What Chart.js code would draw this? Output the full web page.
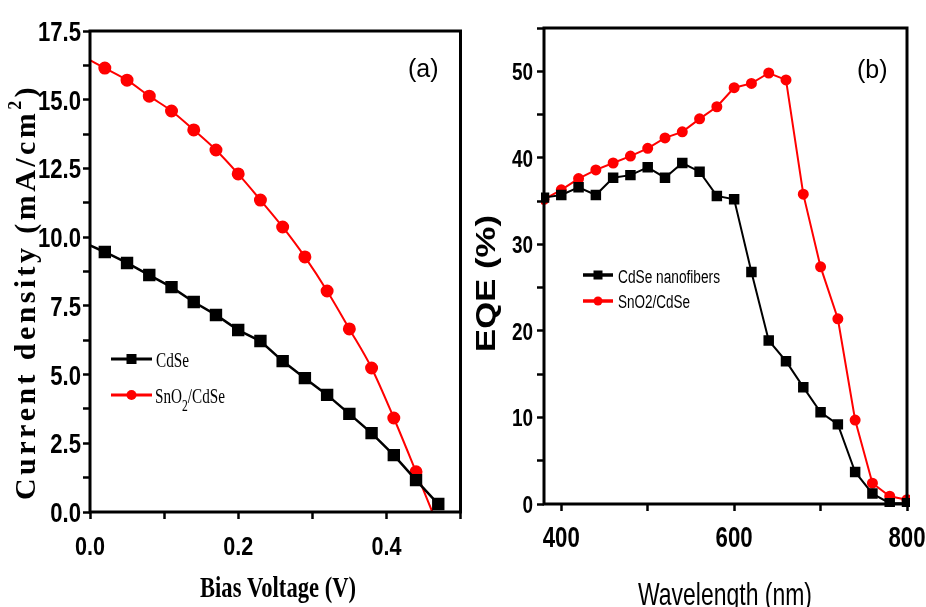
<!DOCTYPE html>
<html>
<head>
<meta charset="utf-8">
<script src="https://cdn.jsdelivr.net/npm/chart.js@4.4.0/dist/chart.umd.min.js"></script>
<style>
    html, body { margin: 0; padding: 0; background: #fff; }
    #wrap { position: relative; width: 926px; height: 607px; overflow: hidden; }
    #jvBox { position: absolute; left: 0; top: 0; width: 470px; height: 607px; }
    #eqeBox { position: absolute; left: 470px; top: 0; width: 456px; height: 607px; }
</style>
</head>
<body>
<div id="wrap">
    <div id="jvBox"><canvas id="jvChart"></canvas></div>
    <div id="eqeBox"><canvas id="eqeChart"></canvas></div>
</div>
<script>
// ---- panel (a): J-V curves ----
var biasCdSe = [0, 0.02, 0.05, 0.08, 0.11, 0.14, 0.17, 0.20, 0.23, 0.26, 0.29, 0.32, 0.35, 0.38, 0.41, 0.44, 0.47];
var jCdSe = [9.7, 9.46, 9.06, 8.62, 8.18, 7.64, 7.17, 6.62, 6.22, 5.49, 4.87, 4.26, 3.57, 2.87, 2.07, 1.16, 0.29];
var biasSnO2 = [0, 0.02, 0.05, 0.08, 0.11, 0.14, 0.17, 0.20, 0.23, 0.26, 0.29, 0.32, 0.35, 0.38, 0.41, 0.44, 0.462];
var jSnO2 = [16.44, 16.15, 15.71, 15.13, 14.59, 13.9, 13.17, 12.3, 11.35, 10.37, 9.28, 8.04, 6.66, 5.24, 3.42, 1.46, 0];
var jvXTicks = [0, 0.1, 0.2, 0.3, 0.4, 0.5];
var jvXLabels = [0, 0.2, 0.4];
var jvYTicks = [0, 1.25, 2.5, 3.75, 5, 6.25, 7.5, 8.75, 10, 11.25, 12.5, 13.75, 15, 16.25, 17.5];
var jvYLabels = [0, 2.5, 5, 7.5, 10, 12.5, 15, 17.5];

// ---- panel (b): EQE spectra ----
var wavelength = [380, 400, 420, 440, 460, 480, 500, 520, 540, 560, 580, 600, 620, 640, 660, 680, 700, 720, 740, 760, 780, 800];
var eqeCdSe = [35.4, 35.7, 36.6, 35.7, 37.7, 38.0, 38.9, 37.7, 39.4, 38.4, 35.6, 35.2, 26.8, 18.9, 16.5, 13.5, 10.6, 9.2, 3.7, 1.2, 0.1, 0.1];
var eqeSnO2 = [35.2, 36.3, 37.6, 38.6, 39.4, 40.2, 41.1, 42.3, 43.0, 44.5, 45.9, 48.1, 48.6, 49.8, 49.0, 35.8, 27.4, 21.4, 9.7, 2.4, 0.9, 0.5];
var eqeXTicks = [400, 500, 600, 700, 800];
var eqeXLabels = [400, 600, 800];
var eqeYTicks = [0, 5, 10, 15, 20, 25, 30, 35, 40, 45, 50, 55];
var eqeYLabels = [0, 10, 20, 30, 40, 50];

var SERIF = '"Liberation Serif", "Times New Roman", serif';
var SANS = '"Liberation Sans", Arial, sans-serif';

function pts(xs, ys) {
    return xs.map(function(x, i) { return {x: x, y: ys[i]}; });
}

// draws text runs, squeezed ('scale' to a width, 'factor' by a ratio) or letter-spaced ('space')
function drawRuns(ctx, runs, x, y, target, mode, angle, align) {
    var natural = 0, chars = 0;
    runs.forEach(function(r) { ctx.font = r.font; natural += ctx.measureText(r.text).width; chars += r.text.length; });
    ctx.save();
    ctx.translate(x, y);
    if (angle) ctx.rotate(angle);
    ctx.textAlign = 'left';
    ctx.textBaseline = 'alphabetic';
    var gap = 0, sx = 1;
    if (mode === 'space') gap = (target - natural) / (chars - 1);
    else if (mode === 'factor') sx = target;
    else sx = target / natural;
    ctx.scale(sx, 1);
    var cx = 0;
    if (align === 'right') cx = -natural;
    if (align === 'center') cx = -natural / 2;
    runs.forEach(function(r) {
        ctx.font = r.font;
        if (mode === 'space') {
            for (var i = 0; i < r.text.length; i++) {
                ctx.fillText(r.text[i], cx, r.dy || 0);
                cx += ctx.measureText(r.text[i]).width + gap;
            }
        } else {
            ctx.fillText(r.text, cx, r.dy || 0);
            cx += ctx.measureText(r.text).width;
        }
    });
    ctx.restore();
}

function legendRow(ctx, x0, x1, y, color, shape, size, lw) {
    ctx.save();
    ctx.strokeStyle = color;
    ctx.fillStyle = color;
    ctx.lineWidth = lw;
    ctx.beginPath();
    ctx.moveTo(x0, y);
    ctx.lineTo(x1, y);
    ctx.stroke();
    var mx = (x0 + x1) / 2;
    if (shape === 'rect') {
        ctx.fillRect(mx - size / 2, y - size / 2, size, size);
    } else {
        ctx.beginPath();
        ctx.arc(mx, y, size / 2, 0, Math.PI * 2);
        ctx.fill();
    }
    ctx.restore();
}

// tick labels in a condensed face, placed by the chart's own scales
function drawTickLabels(chart, axis, labels, fmt, font, sx, offset, baseShift) {
    var ctx = chart.ctx;
    var scale = chart.scales[axis];
    scale.ticks.forEach(function(t) {
        if (labels.indexOf(t.value) < 0) return;
        var p = scale.getPixelForValue(t.value);
        var run = [{text: fmt(t.value), font: font}];
        if (axis === 'y') drawRuns(ctx, run, offset, p + baseShift, sx, 'factor', 0, 'right');
        else drawRuns(ctx, run, p, offset, sx, 'factor', 0, 'center');
    });
}

function makeDecor(drawFn) {
    return {
        id: 'panelDecor',
        afterDraw: function(chart) {
            var ctx = chart.ctx;
            var a = chart.chartArea;
            ctx.save();
            ctx.strokeStyle = '#000';
            ctx.lineWidth = 3;
            ctx.strokeRect(a.left, a.top, a.right - a.left, a.bottom - a.top);
            ctx.fillStyle = '#000';
            drawFn(chart, ctx, a);
            ctx.restore();
        }
    };
}

function fixedAxis(size) {
    return function(scale) {
        if (scale.isHorizontal()) {
            scale.height = size;
            scale.paddingLeft = 0;
            scale.paddingRight = 0;
        } else {
            scale.width = size;
            scale.paddingTop = 0;
            scale.paddingBottom = 0;
        }
    };
}

function tickList(list) {
    return function(scale) {
        scale.ticks = list.map(function(v) { return {value: v}; });
    };
}

function axisGrid() {
    return { drawOnChartArea: false, drawTicks: true, tickLength: 7, tickWidth: 2.5, tickColor: '#000' };
}

function blankTicks() {
    return { autoSkip: false, maxRotation: 0, callback: function() { return ''; } };
}

function fmt1(v) { return v.toFixed(1); }
function fmt0(v) { return String(v); }

// ---- chart (a) ----
var ctxA = document.getElementById('jvChart').getContext('2d');
var jvChart = new Chart(ctxA, {
    type: 'line',
    data: {
        datasets: [{
            label: 'CdSe',
            data: pts(biasCdSe, jCdSe),
            borderColor: '#000',
            backgroundColor: '#000',
            borderWidth: 2.5,
            pointStyle: 'rect',
            pointRadius: biasCdSe.map(function(v, i) { return i === 0 ? 0 : 7; }),
            tension: 0,
            clip: 3
        }, {
            label: 'SnO2/CdSe',
            data: pts(biasSnO2, jSnO2),
            borderColor: '#ff0000',
            backgroundColor: '#ff0000',
            borderWidth: 2,
            pointStyle: 'circle',
            pointRadius: biasSnO2.map(function(v, i) { return (i === 0 || i === biasSnO2.length - 1) ? 0 : 5.5; }),
            cubicInterpolationMode: 'monotone',
            clip: 3
        }]
    },
    options: {
        responsive: true,
        maintainAspectRatio: false,
        animation: false,
        layout: { padding: { left: 0, top: 31, right: 7, bottom: 0 } },
        plugins: { legend: { display: false }, tooltip: { enabled: false } },
        scales: {
            x: {
                type: 'linear', min: 0, max: 0.5,
                afterFit: fixedAxis(95),
                afterBuildTicks: tickList(jvXTicks),
                border: { display: false },
                grid: axisGrid(),
                ticks: blankTicks()
            },
            y: {
                type: 'linear', min: 0, max: 17.5,
                afterFit: fixedAxis(90),
                afterBuildTicks: tickList(jvYTicks),
                border: { display: false },
                grid: axisGrid(),
                ticks: blankTicks()
            }
        }
    },
    plugins: [makeDecor(function(chart, ctx, a) {
        drawTickLabels(chart, 'y', jvYLabels, fmt1, 'bold 28px ' + SANS, 0.79, 81, 10);
        drawTickLabels(chart, 'x', jvXLabels, fmt1, 'bold 26px ' + SANS, 0.83, 555, 0);
        // axis titles
        drawRuns(ctx, [
            {text: 'Current density (mA/cm', font: 'bold 30px ' + SERIF},
            {text: '2', font: 'bold 18px ' + SERIF, dy: -14},
            {text: ')', font: 'bold 30px ' + SERIF}
        ], 35, 500, 412, 'space', -Math.PI / 2);
        drawRuns(ctx, [{text: 'Bias Voltage (V)', font: 'bold 29px ' + SERIF}], 200, 597, 156, 'scale');
        // panel label
        ctx.font = '25px ' + SANS;
        ctx.textAlign = 'left';
        ctx.textBaseline = 'alphabetic';
        ctx.fillText('(a)', 408, 77);
        // legend
        legendRow(ctx, 111, 152, 359, '#000', 'rect', 10, 3);
        legendRow(ctx, 111, 152, 395, '#ff0000', 'circle', 10, 3);
        drawRuns(ctx, [{text: 'CdSe', font: '21px ' + SERIF}], 156, 367, 33, 'scale');
        drawRuns(ctx, [
            {text: 'SnO', font: '21px ' + SERIF},
            {text: '2', font: '16px ' + SERIF, dy: 8},
            {text: '/CdSe', font: '21px ' + SERIF}
        ], 155, 403, 70, 'scale');
    })]
});

// ---- chart (b) ----
var ctxB = document.getElementById('eqeChart').getContext('2d');
var eqeChart = new Chart(ctxB, {
    type: 'line',
    data: {
        datasets: [{
            label: 'CdSe nanofibers',
            data: pts(wavelength, eqeCdSe),
            borderColor: '#000',
            backgroundColor: '#000',
            borderWidth: 2,
            pointStyle: 'rect',
            pointRadius: 6,
            tension: 0,
            clip: 3
        }, {
            label: 'SnO2/CdSe',
            data: pts(wavelength, eqeSnO2),
            borderColor: '#ff0000',
            backgroundColor: '#ff0000',
            borderWidth: 2,
            pointStyle: 'circle',
            pointRadius: 4.5,
            tension: 0,
            clip: 3
        }]
    },
    options: {
        responsive: true,
        maintainAspectRatio: false,
        animation: false,
        layout: { padding: { left: 0, top: 28, right: 19, bottom: 0 } },
        plugins: { legend: { display: false }, tooltip: { enabled: false } },
        scales: {
            x: {
                type: 'linear', min: 380, max: 800,
                afterFit: fixedAxis(103),
                afterBuildTicks: tickList(eqeXTicks),
                border: { display: false },
                grid: axisGrid(),
                ticks: blankTicks()
            },
            y: {
                type: 'linear', min: 0, max: 55,
                afterFit: fixedAxis(74),
                afterBuildTicks: tickList(eqeYTicks),
                border: { display: false },
                grid: axisGrid(),
                ticks: blankTicks()
            }
        }
    },
    plugins: [makeDecor(function(chart, ctx, a) {
        drawTickLabels(chart, 'y', eqeYLabels, fmt0, 'bold 24px ' + SANS, 0.79, 63, 9);
        drawTickLabels(chart, 'x', eqeXLabels, fmt0, 'bold 30px ' + SANS, 0.74, 547, 0);
        drawRuns(ctx, [{text: 'EQE (%)', font: 'bold 28px ' + SANS}], 25, 352, 137, 'scale', -Math.PI / 2);
        drawRuns(ctx, [{text: 'Wavelength (nm)', font: '32px ' + SANS}], 168, 605, 174, 'scale');
        ctx.font = '25px ' + SANS;
        ctx.textAlign = 'left';
        ctx.textBaseline = 'alphabetic';
        ctx.fillText('(b)', 387, 78);
        legendRow(ctx, 113, 143, 275, '#000', 'rect', 9, 3.5);
        legendRow(ctx, 113, 143, 301, '#ff0000', 'circle', 9, 3.5);
        drawRuns(ctx, [{text: 'CdSe nanofibers', font: '18px ' + SANS}], 148, 283, 102, 'scale');
        drawRuns(ctx, [{text: 'SnO2/CdSe', font: '18px ' + SANS}], 148, 308, 72, 'scale');
    })]
});
</script>
</body>
</html>
